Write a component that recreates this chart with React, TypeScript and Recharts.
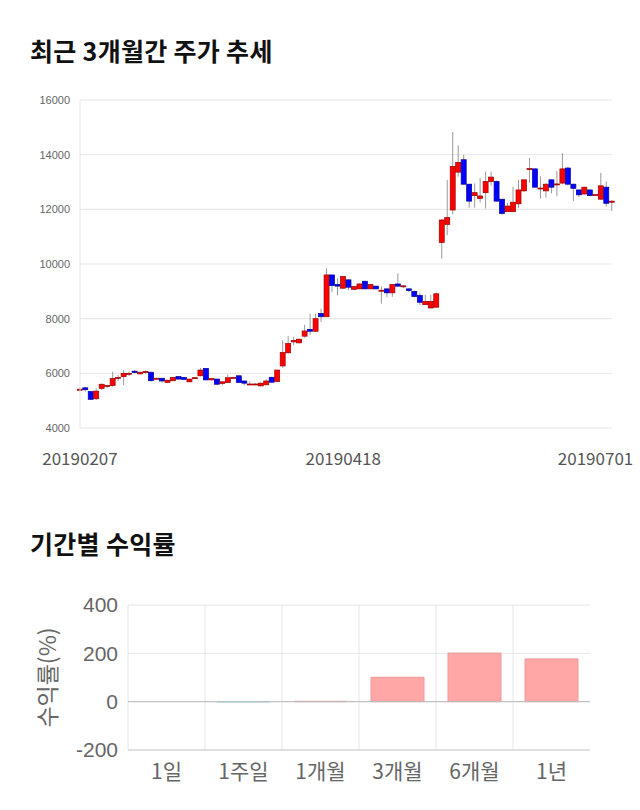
import {
  ComposedChart,
  BarChart,
  Bar,
  XAxis,
  YAxis,
  CartesianGrid,
  Cell,
  ReferenceLine,
} from 'recharts';

// trading days shown on the price chart
const DATES = [
  '20190207', '20190208', '20190211', '20190212', '20190213', '20190214', '20190215', '20190218',
  '20190219', '20190220', '20190221', '20190222', '20190225', '20190226', '20190227', '20190228',
  '20190305', '20190306', '20190307', '20190308', '20190311', '20190312', '20190313', '20190314',
  '20190315', '20190318', '20190319', '20190320', '20190321', '20190322', '20190325', '20190326',
  '20190327', '20190328', '20190329', '20190401', '20190402', '20190403', '20190404', '20190405',
  '20190408', '20190409', '20190410', '20190411', '20190412', '20190415', '20190416', '20190417',
  '20190418', '20190419', '20190422', '20190423', '20190424', '20190425', '20190426', '20190429',
  '20190430', '20190502', '20190503', '20190507', '20190508', '20190509', '20190510', '20190513',
  '20190514', '20190515', '20190521', '20190522', '20190523', '20190524', '20190527', '20190528',
  '20190529', '20190530', '20190531', '20190603', '20190604', '20190605', '20190607', '20190610',
  '20190611', '20190612', '20190613', '20190614', '20190617', '20190618', '20190619', '20190620',
  '20190621', '20190624', '20190625', '20190626', '20190627', '20190628', '20190701', '20190702',
  '20190703', '20190704',
];

const OPEN = [
  5380, 5470, 5330, 5070, 5450, 5530, 5550, 5830, 5880, 5990, 6080, 5980, 6030, 6040, 5810, 5820,
  5670, 5730, 5880, 5850, 5690, 5830, 5910, 6180, 5760, 5790, 5630, 5660, 5840, 5910, 5720, 5580,
  5580, 5540, 5580, 5855, 5700, 6270, 6750, 7150, 7115, 7360, 7610, 7540, 8190, 8070, 9600, 9250,
  9115, 9420, 9070, 9090, 9370, 9090, 9190, 9030, 9090, 8945, 9270, 9180, 9090, 9000, 8850, 8510,
  8390, 8420, 10785, 11450, 11975, 13360, 13815, 12920, 12500, 12400, 12610, 13020, 13020, 12370,
  11915, 11915, 12200, 12675, 13470, 13480, 12760, 12675, 13080, 12910, 12960, 13510, 12920, 12710,
  12560, 12710, 12520, 12370, 12810, 12260,
];
const HIGH = [
  5500, 5510, 5350, 5450, 5630, 5580, 6060, 5940, 6120, 6060, 6120, 6060, 6100, 6060, 5840, 5830,
  5760, 5870, 5900, 5870, 5800, 5870, 6200, 6190, 5830, 5800, 5700, 5950, 5880, 5930, 5730, 5700,
  5650, 5670, 5780, 5880, 6130, 7210, 7370, 7330, 7270, 7780, 8180, 8180, 8360, 9840, 9600, 9480,
  9560, 9440, 9190, 9290, 9380, 9260, 9200, 9180, 9100, 9270, 9660, 9230, 9110, 9020, 8950, 8880,
  8880, 8960, 11650, 13080, 14830, 14340, 13990, 12930, 12950, 13140, 13380, 13380, 13050, 12380,
  12240, 12830, 13080, 13080, 13880, 13500, 13210, 12950, 13100, 13400, 14060, 13560, 12940, 12720,
  12830, 12720, 12560, 13330, 13020, 12320,
];
const LOW = [
  5350, 5330, 5020, 5020, 5390, 5450, 5510, 5720, 5570, 5900, 6000, 5960, 6000, 5700, 5780, 5650,
  5660, 5700, 5770, 5760, 5680, 5810, 5890, 5750, 5740, 5580, 5560, 5640, 5810, 5650, 5560, 5570,
  5570, 5530, 5570, 5650, 5690, 6200, 6730, 7030, 7100, 7300, 7400, 7520, 7880, 8070, 8970, 8850,
  9080, 9050, 9060, 9080, 9080, 9080, 9080, 8550, 8790, 8800, 9150, 9120, 8970, 8780, 8500, 8500,
  8380, 8400, 10200, 11055, 11815, 13200, 12900, 12060, 12060, 12250, 12030, 12870, 12280, 11810,
  11900, 11900, 12040, 12640, 12960, 12800, 12390, 12430, 12580, 12480, 12920, 12880, 12300, 12450,
  12540, 12480, 12500, 12350, 12100, 11940,
];
const CLOSE = [
  5420, 5400, 5050, 5350, 5600, 5560, 5810, 5850, 6000, 6000, 6030, 6040, 6070, 5730, 5820, 5720,
  5750, 5850, 5790, 5780, 5790, 5840, 6120, 5760, 5810, 5600, 5690, 5840, 5850, 5670, 5640, 5610,
  5610, 5640, 5720, 5675, 6120, 6760, 7090, 7200, 7250, 7550, 7540, 8000, 8070, 9600, 9210, 9190,
  9540, 9150, 9175, 9270, 9090, 9250, 9090, 9040, 8945, 9250, 9190, 9200, 9030, 8810, 8600, 8630,
  8630, 8910, 11610, 11700, 13570, 13720, 12920, 12300, 12610, 12490, 13020, 13180, 12300, 11850,
  12120, 12260, 12710, 13080, 13490, 12810, 12780, 12920, 12810, 12930, 13480, 12920, 12770, 12530,
  12810, 12500, 12540, 12860, 12220, 12300,
];

const PRICE_TICKS = [4000, 6000, 8000, 10000, 12000, 14000, 16000];
const DATE_TICKS = ['20190207', '20190418', '20190701'];

const PERIODS = ['1일', '1주일', '1개월', '3개월', '6개월', '1년'];
const RETURNS = [0, -1.5, 1.5, 101, 201, 177];
const RETURN_TICKS = [-200, 0, 200, 400];

const COLORS = {
  up: '#ff0000',
  upEdge: '#9a0000',
  down: '#0000ff',
  downEdge: '#00009a',
  wick: '#9a9a9a',
  grid: '#e6e6e6',
  gain: '#ffa6a6',
  gainEdge: '#f09999',
  loss: '#a9d4ea',
  text: '#666',
} as const;

const KR = "'Noto Sans CJK KR', 'Noto Sans', sans-serif";
const LATIN = "'Liberation Sans', Arial, sans-serif";

const candles = DATES.map((date, i) => ({
  i,
  date,
  open: OPEN[i],
  high: HIGH[i],
  low: LOW[i],
  close: CLOSE[i],
  range: [LOW[i], HIGH[i]],
}));

const returns = PERIODS.map((period, i) => ({ period, value: RETURNS[i] }));

// eslint-disable-next-line @typescript-eslint/no-explicit-any
function Candle(props: any) {
  const { x, y, width, height, payload } = props;
  if (x == null || y == null) return null;
  const { open, close, high, low } = payload;
  const top = Math.min(y, y + height);
  const h = Math.abs(height);
  const k = high === low ? 0 : h / (high - low);
  const py = (v: number) => top + (high - v) * k;
  const up = close >= open;
  const bodyTop = py(Math.max(open, close));
  const bodyH = Math.max(1, py(Math.min(open, close)) - bodyTop);
  const cx = x + width / 2;
  return (
    <g>
      <line x1={cx} x2={cx} y1={top} y2={top + h} stroke={COLORS.wick} strokeWidth={1} />
      <rect
        x={x}
        y={bodyTop}
        width={width}
        height={bodyH}
        fill={up ? COLORS.up : COLORS.down}
        stroke={up ? COLORS.upEdge : COLORS.downEdge}
        strokeWidth={0.7}
      />
    </g>
  );
}

// eslint-disable-next-line @typescript-eslint/no-explicit-any
function DateTick({ x, y, payload }: any) {
  return (
    <text x={x} y={y} dy="0.71em" textAnchor="middle" fill="#555" fontSize={17} fontFamily={KR}>
      {DATES[payload.value]}
    </text>
  );
}

// eslint-disable-next-line @typescript-eslint/no-explicit-any
function ReturnLabel({ viewBox }: any) {
  const cx = viewBox.x + 46;
  const cy = viewBox.y + viewBox.height / 2;
  return (
    <text
      x={cx}
      y={cy}
      transform={`rotate(-90 ${cx} ${cy})`}
      textAnchor="middle"
      dominantBaseline="central"
      fill={COLORS.text}
      fontSize={23}
      fontFamily={KR}
    >
      수익률(%)
    </text>
  );
}

const titleStyle: React.CSSProperties = {
  position: 'absolute',
  left: 30,
  margin: 0,
  fontFamily: KR,
  fontWeight: 700,
  fontSize: 25,
  letterSpacing: 0.3,
  color: '#111',
  lineHeight: 1,
  whiteSpace: 'nowrap',
};

export default function App() {
  return (
    <div style={{ position: 'absolute', left: 0, top: 0, width: 640, height: 810, background: '#fff' }}>
      <div style={{ ...titleStyle, top: 38 }}>최근 3개월간 주가 추세</div>

      <div style={{ position: 'absolute', left: 0, top: 0 }}>
        <ComposedChart width={640} height={480} data={candles} margin={{ top: 100, right: 28, bottom: 0, left: 0 }}>
          <CartesianGrid vertical={false} stroke={COLORS.grid} />
          <XAxis
            dataKey="i"
            type="number"
            domain={[0, candles.length - 1]}
            ticks={DATE_TICKS.map((d) => DATES.indexOf(d))}
            tick={<DateTick />}
            tickLine={false}
            axisLine={false}
            tickSize={0}
            tickMargin={25}
            height={52}
            interval={0}
          />
          <YAxis
            domain={[4000, 16000]}
            ticks={PRICE_TICKS}
            width={80}
            tickLine={false}
            tickSize={0}
            tickMargin={10}
            axisLine={{ stroke: COLORS.grid }}
            tick={{ fontSize: 11, fill: COLORS.text, fontFamily: LATIN }}
          />
          <Bar dataKey="range" barSize={5} isAnimationActive={false} shape={(p: unknown) => <Candle {...(p as object)} />} />
        </ComposedChart>
      </div>

      <div style={{ ...titleStyle, top: 531 }}>기간별 수익률</div>

      <div style={{ position: 'absolute', left: 0, top: 560 }}>
        <BarChart width={640} height={250} data={returns} margin={{ top: 45, right: 50, bottom: 25, left: 0 }}>
          <CartesianGrid
            stroke={COLORS.grid}
            verticalCoordinatesGenerator={({ offset }: { offset: { left: number; width: number } }) =>
              PERIODS.map((_, i) => offset.left + (offset.width * i) / PERIODS.length)
            }
          />
          <XAxis
            dataKey="period"
            tickLine={false}
            tickSize={0}
            tickMargin={14}
            height={35}
            axisLine={{ stroke: '#cccccc' }}
            tick={{ fontSize: 21, fill: COLORS.text, fontFamily: KR }}
            interval={0}
          />
          <YAxis
            domain={[-200, 400]}
            ticks={RETURN_TICKS}
            width={128}
            tickLine={false}
            tickSize={0}
            tickMargin={10}
            axisLine={false}
            tick={{ fontSize: 21, fill: COLORS.text, fontFamily: LATIN }}
            label={<ReturnLabel />}
          />
          <ReferenceLine y={0} stroke="#bbbbbb" />
          <Bar dataKey="value" barSize={53} isAnimationActive={false}>
            {returns.map((r) => (
              <Cell
                key={r.period}
                fill={r.value >= 0 ? COLORS.gain : COLORS.loss}
                stroke={r.value >= 0 ? COLORS.gainEdge : COLORS.loss}
              />
            ))}
          </Bar>
        </BarChart>
      </div>
    </div>
  );
}
